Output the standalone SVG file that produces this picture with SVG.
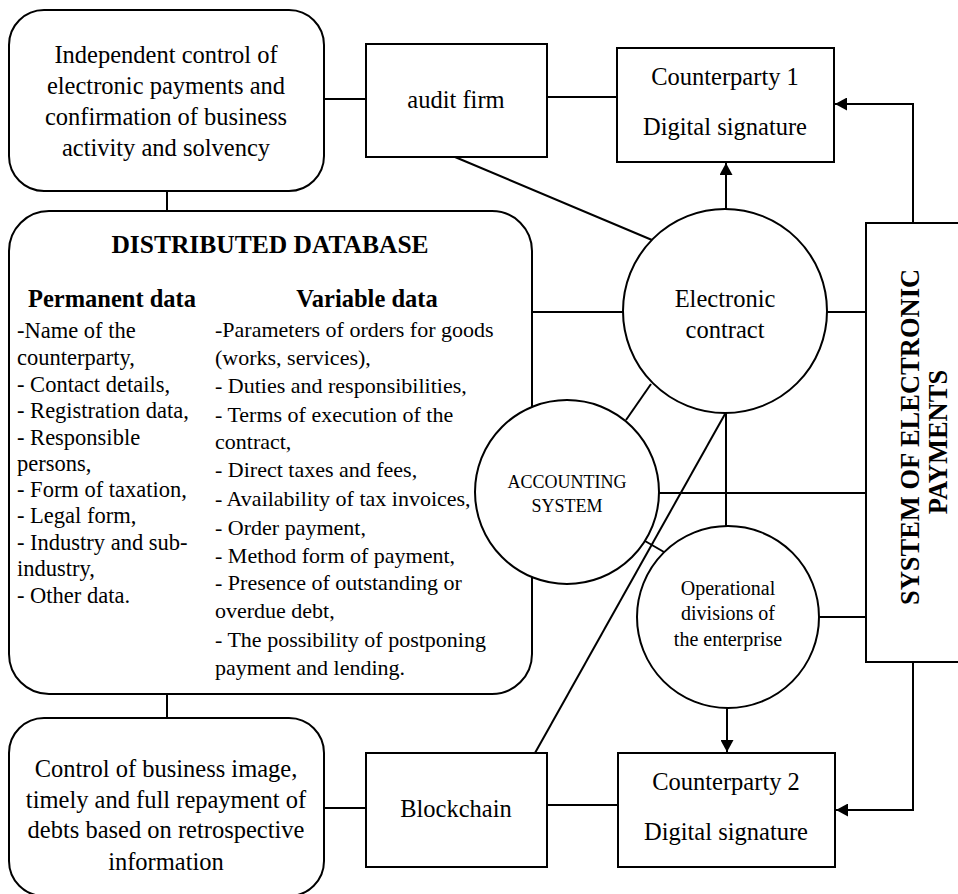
<svg xmlns="http://www.w3.org/2000/svg" width="958" height="894" viewBox="0 0 958 894">
<style>
text{font-family:"Liberation Serif","Times New Roman",serif;fill:#000}
.box{fill:#fff;stroke:#000;stroke-width:2}
.ln{stroke:#000;stroke-width:2;fill:none}
.t25{font-size:24.5px;text-anchor:middle}
.lst{font-size:22.5px}
.lstv{font-size:22px}
.hd{font-size:24.5px;font-weight:bold}
</style>
<defs>
<marker id="arr" markerUnits="userSpaceOnUse" markerWidth="13" markerHeight="13" refX="12" refY="6.5" orient="auto">
<path d="M0,0 L12,6.5 L0,13 z" fill="#000"/>
</marker>
</defs>
<g id="connectors">
<line class="ln" x1="324" y1="99" x2="366" y2="99"/>
<line class="ln" x1="547" y1="97" x2="617" y2="97"/>
<line class="ln" x1="455" y1="157" x2="652" y2="240"/>
<line class="ln" x1="726" y1="209" x2="726" y2="163" marker-end="url(#arr)"/>
<path class="ln" d="M913,223 V104 H835" marker-end="url(#arr)"/>
<line class="ln" x1="167" y1="191" x2="167" y2="211"/>
<line class="ln" x1="532" y1="312" x2="623" y2="312"/>
<line class="ln" x1="827" y1="312" x2="866" y2="312"/>
<line class="ln" x1="651" y1="384" x2="626" y2="420"/>
<line class="ln" x1="659" y1="493" x2="866" y2="493"/>
<line class="ln" x1="726" y1="413" x2="726" y2="526"/>
<line class="ln" x1="535" y1="753" x2="725" y2="414"/>
<line class="ln" x1="645" y1="541" x2="664" y2="552"/>
<line class="ln" x1="819" y1="617" x2="866" y2="617"/>
<line class="ln" x1="727" y1="708" x2="727" y2="752" marker-end="url(#arr)"/>
<path class="ln" d="M913,662 V810 H836" marker-end="url(#arr)"/>
<line class="ln" x1="167" y1="694" x2="167" y2="718"/>
<line class="ln" x1="324" y1="808" x2="366" y2="808"/>
<line class="ln" x1="547" y1="805" x2="618" y2="805"/>
</g>
<g id="independent-control">
<rect class="box" x="9" y="10" width="315" height="181" rx="35"/>
<text class="t25" x="166" y="63">Independent control of</text>
<text class="t25" x="166" y="94">electronic payments and</text>
<text class="t25" x="166" y="125">confirmation of business</text>
<text class="t25" x="166" y="156">activity and solvency</text>
</g>
<g id="audit-firm">
<rect class="box" x="366" y="44" width="181" height="113"/>
<text class="t25" x="456" y="108">audit firm</text>
</g>
<g id="counterparty-1">
<rect class="box" x="617" y="48" width="217" height="114"/>
<text class="t25" x="725" y="85">Counterparty 1</text>
<text class="t25" x="725" y="135">Digital signature</text>
</g>
<g id="distributed-database">
<rect class="box" x="9" y="211" width="523" height="483" rx="40"/>
<text class="hd" x="270" y="253" text-anchor="middle" style="font-size:25.5px">DISTRIBUTED DATABASE</text>
<text class="hd" x="112" y="307" text-anchor="middle">Permanent data</text>
<text class="hd" x="367" y="307" text-anchor="middle">Variable data</text>
<text class="lst" x="17" y="338">-Name of the</text>
<text class="lst" x="17" y="365">counterparty,</text>
<text class="lst" x="17" y="392">- Contact details,</text>
<text class="lst" x="17" y="418">- Registration data,</text>
<text class="lst" x="17" y="445">- Responsible</text>
<text class="lst" x="17" y="471">persons,</text>
<text class="lst" x="17" y="497">- Form of taxation,</text>
<text class="lst" x="17" y="523">- Legal form,</text>
<text class="lst" x="17" y="550">- Industry and sub-</text>
<text class="lst" x="17" y="576">industry,</text>
<text class="lst" x="17" y="603">- Other data.</text>
<text class="lstv" x="215" y="337">-Parameters of orders for goods</text>
<text class="lstv" x="215" y="365">(works, services),</text>
<text class="lstv" x="215" y="393">- Duties and responsibilities,</text>
<text class="lstv" x="215" y="422">- Terms of execution of the</text>
<text class="lstv" x="215" y="449">contract,</text>
<text class="lstv" x="215" y="477">- Direct taxes and fees,</text>
<text class="lstv" x="215" y="506">- Availability of tax invoices,</text>
<text class="lstv" x="215" y="535">- Order payment,</text>
<text class="lstv" x="215" y="563">- Method form of payment,</text>
<text class="lstv" x="215" y="590">- Presence of outstanding or</text>
<text class="lstv" x="215" y="618">overdue debt,</text>
<text class="lstv" x="215" y="647">- The possibility of postponing</text>
<text class="lstv" x="215" y="675">payment and lending.</text>
</g>
<g id="electronic-contract">
<circle class="box" cx="725" cy="311" r="102"/>
<text class="t25" x="725" y="307">Electronic</text>
<text class="t25" x="725" y="338">contract</text>
</g>
<g id="accounting-system">
<circle class="box" cx="567" cy="492" r="92"/>
<text x="567" y="488" font-size="18" text-anchor="middle">ACCOUNTING</text>
<text x="567" y="512" font-size="18" text-anchor="middle">SYSTEM</text>
</g>
<g id="operational-divisions">
<circle class="box" cx="728" cy="617" r="91"/>
<text x="728" y="595" font-size="20" text-anchor="middle">Operational</text>
<text x="728" y="620" font-size="20" text-anchor="middle">divisions of</text>
<text x="728" y="646" font-size="20" text-anchor="middle">the enterprise</text>
</g>
<g id="system-electronic-payments">
<rect class="box" x="866" y="223" width="96" height="439"/>
<text x="0" y="0" font-size="26.5" font-weight="bold" text-anchor="middle" transform="translate(919,437) rotate(-90)">SYSTEM OF ELECTRONIC</text>
<text x="0" y="0" font-size="26.5" font-weight="bold" text-anchor="middle" transform="translate(947,442) rotate(-90)">PAYMENTS</text>
</g>
<g id="business-image">
<rect class="box" x="9" y="718" width="315" height="178" rx="35"/>
<text class="t25" x="166" y="777">Control of business image,</text>
<text class="t25" x="166" y="808">timely and full repayment of</text>
<text class="t25" x="166" y="838">debts based on retrospective</text>
<text class="t25" x="166" y="870">information</text>
</g>
<g id="blockchain">
<rect class="box" x="366" y="753" width="181" height="114"/>
<text class="t25" x="456" y="817">Blockchain</text>
</g>
<g id="counterparty-2">
<rect class="box" x="618" y="753" width="217" height="114"/>
<text class="t25" x="726" y="790">Counterparty 2</text>
<text class="t25" x="726" y="840">Digital signature</text>
</g>
</svg>
